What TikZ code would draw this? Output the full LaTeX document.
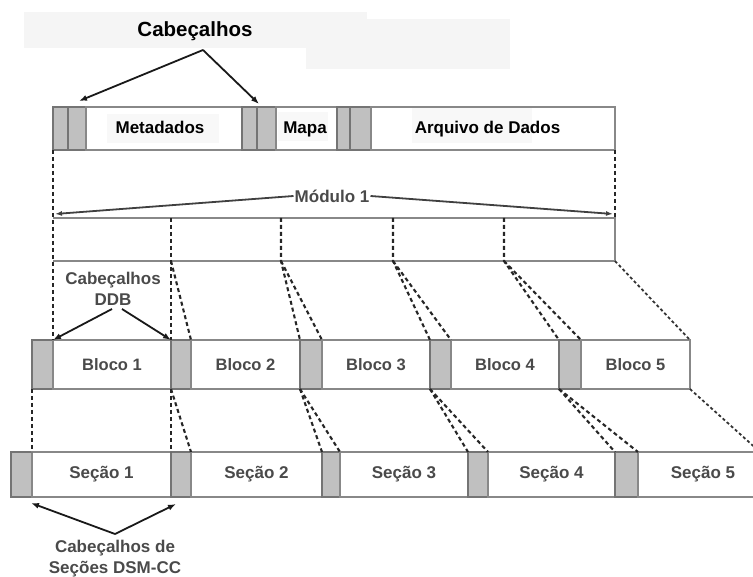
\documentclass[tikz,border=0pt]{standalone}
\usepackage{fontspec}
\setmainfont{Liberation Sans}
\usetikzlibrary{arrows.meta,calc}
\definecolor{hdrfill}{HTML}{C0C0C0}
\definecolor{edgegray}{HTML}{888888}
\definecolor{txtgray}{HTML}{4A4A4A}
\definecolor{bgpale}{HTML}{F5F5F5}
\begin{document}
\begin{tikzpicture}[x=1pt,y=-1pt,
  cellbox/.style={draw=edgegray, line width=2.2pt, fill=white, inner sep=0pt, outer sep=0pt},
  hdrbox/.style={cellbox, fill=hdrfill, draw=edgegray!85!black},
  toprow/.style={minimum height=43pt},
  blkrow/.style={minimum height=49pt},
  secrow/.style={minimum height=45pt},
  bigtxt/.style={font=\fontsize{20.5}{24}\selectfont\bfseries, text=black},
  toptxt/.style={font=\fontsize{17}{20}\selectfont\bfseries, text=black, anchor=base},
  graytxt/.style={font=\fontsize{16.5}{20}\selectfont\bfseries, text=txtgray, align=center},
  lbltxt/.style={font=\fontsize{17}{21}\selectfont\bfseries, text=txtgray, align=center},
  dsh/.style={draw=black!85, line width=2.1pt, dash pattern=on 4pt off 3pt},
  dsh2/.style={draw=black!80, line width=1.8pt, dash pattern=on 3pt off 2.5pt},
  arr/.style={draw=black!90, line width=1.8pt, -{Latex[length=8pt,width=6pt]}},
  arrg/.style={draw=black!75, line width=1.8pt, -{Latex[length=7pt,width=5pt]}}
]
\useasboundingbox (0,0) rectangle (753,577);
% pale background patches
\fill[bgpale] (24,12) rectangle (367,48);
\fill[bgpale] (306,19) rectangle (510,69);

% ---------- top bar ----------
\node[hdrbox,toprow,minimum width=15pt] (th1a) at (60.5,128.5) {};
\node[hdrbox,toprow,minimum width=18pt] (th1b) at (77,128.5) {};
\node[cellbox,toprow,minimum width=156pt] (meta) at (164,128.5) {};
\node[hdrbox,toprow,minimum width=15pt] (th2a) at (249.5,128.5) {};
\node[hdrbox,toprow,minimum width=19pt] (th2b) at (266.5,128.5) {};
\node[cellbox,toprow,minimum width=61pt] (mapa) at (306.5,128.5) {};
\node[hdrbox,toprow,minimum width=13pt] (th3a) at (343.5,128.5) {};
\node[hdrbox,toprow,minimum width=21pt] (th3b) at (360.5,128.5) {};
\node[cellbox,toprow,minimum width=244pt] (arq) at (493,128.5) {};
\fill[bgpale!70!white] (107,114) rectangle (219,143);
\fill[bgpale!70!white] (278,112) rectangle (328,141);
\fill[bgpale!70!white] (412,108) rectangle (532,143);
\node[toptxt] (tmeta) at (160,134) {Metadados};
\node[toptxt] (tmapa) at (305,134) {Mapa};
\node[toptxt] (tarq) at (487.5,134) {Arquivo de Dados};

% Cabeçalhos
\node[bigtxt] (cab) at (195,31) {Cabeçalhos};
\coordinate (capex) at (203,50);
\coordinate (ctipl) at (79,101);
\coordinate (ctipr) at (259,104);
\draw[arr] (capex) -- (ctipl);
\draw[arr] (capex) -- (ctipr);

% ---------- module ----------
\node[inner sep=0pt, outer sep=0pt, minimum width=562pt, minimum height=43pt] (mod) at (334,239.5) {};
\draw[edgegray, line width=2.2pt] (mod.north west) -- (mod.north east) -- (mod.south east) -- (mod.south west);
\node[font=\fontsize{17}{20}\selectfont\bfseries, text=txtgray, inner sep=1pt] (mlab) at (332,196) {Módulo 1};
\coordinate (mtipl) at (55,214);
\coordinate (mtipr) at (613,214);
\draw[arrg] (mlab.west) -- (mtipl);
\draw[arrg] (mlab.east) -- (mtipr);

% ---------- blocks ----------
\node[hdrbox,blkrow,minimum width=21pt] (bh1) at (42.5,364.5) {};
\node[cellbox,blkrow,minimum width=118pt,graytxt] (b1) at (112,364.5) {Bloco 1};
\node[hdrbox,blkrow,minimum width=20pt] (bh2) at (181,364.5) {};
\node[cellbox,blkrow,minimum width=109pt,graytxt] (b2) at (245.5,364.5) {Bloco 2};
\node[hdrbox,blkrow,minimum width=22pt] (bh3) at (311,364.5) {};
\node[cellbox,blkrow,minimum width=108pt,graytxt] (b3) at (376,364.5) {Bloco 3};
\node[hdrbox,blkrow,minimum width=21pt] (bh4) at (440.5,364.5) {};
\node[cellbox,blkrow,minimum width=108pt,graytxt] (b4) at (505,364.5) {Bloco 4};
\node[hdrbox,blkrow,minimum width=22pt] (bh5) at (570,364.5) {};
\node[cellbox,blkrow,minimum width=109pt,graytxt] (b5) at (635.5,364.5) {Bloco 5};

% ---------- sections ----------
\node[hdrbox,secrow,minimum width=21pt] (sh1) at (21.5,474.5) {};
\node[cellbox,secrow,minimum width=139pt,lbltxt] (s1) at (101.5,474.5) {Seção 1};
\node[hdrbox,secrow,minimum width=20pt] (sh2) at (181,474.5) {};
\node[cellbox,secrow,minimum width=131pt,lbltxt] (s2) at (256.5,474.5) {Seção 2};
\node[hdrbox,secrow,minimum width=18pt] (sh3) at (331,474.5) {};
\node[cellbox,secrow,minimum width=128pt,lbltxt] (s3) at (404,474.5) {Seção 3};
\node[hdrbox,secrow,minimum width=20pt] (sh4) at (478,474.5) {};
\node[cellbox,secrow,minimum width=127pt,lbltxt] (s4) at (551.5,474.5) {Seção 4};
\node[hdrbox,secrow,minimum width=23pt] (sh5) at (626.5,474.5) {};
\node[cellbox,secrow,minimum width=130pt,lbltxt] (s5) at (703,474.5) {Seção 5};

% ---------- dashed mapping lines ----------
\draw[dsh] (th1a.south west) -- (b1.north west);
\draw[dsh] (arq.south east) -- (mod.north east);
\coordinate (m1t) at (171,218); \coordinate (m1b) at (171,261);
\coordinate (m2t) at (281,218); \coordinate (m2b) at (281,261);
\coordinate (m3t) at (393,218); \coordinate (m3b) at (393,261);
\coordinate (m4t) at (504,218); \coordinate (m4b) at (504,261);
\draw[dsh] (m1t) -- (m1b) -- (bh2.north west);
\draw[dsh] (m1b) -- (bh2.north east);
\draw[dsh] (m2t) -- (m2b) -- (bh3.north west);
\draw[dsh] (m2b) -- (bh3.north east);
\draw[dsh] (m3t) -- (m3b) -- (bh4.north west);
\draw[dsh] (m3b) -- (bh4.north east);
\draw[dsh] (m4t) -- (m4b) -- (bh5.north west);
\draw[dsh] (m4b) -- (bh5.north east);
\draw[dsh2] (mod.south east) -- (b5.north east);

\draw[dsh] (bh1.south west) -- (s1.north west);
\draw[dsh] (bh2.south west) -- (sh2.north west);
\draw[dsh] (bh2.south west) -- (sh2.north east);
\draw[dsh] (bh3.south west) -- (sh3.north west);
\draw[dsh] (bh3.south west) -- (sh3.north east);
\draw[dsh] (bh4.south west) -- (sh4.north west);
\draw[dsh] (bh4.south west) -- (sh4.north east);
\draw[dsh] (bh5.south west) -- (sh5.north west);
\draw[dsh] (bh5.south west) -- (sh5.north east);
\coordinate (offr) at (760,452);
\draw[dsh2] (b5.south east) -- (offr);

% ---------- DDB headers label ----------
\node[lbltxt] (ddb) at (113,289) {Cabeçalhos\\DDB};
\coordinate (dapl) at (112,309);
\coordinate (dapr) at (122,309);
\draw[arr] (dapl) -- (b1.north west);
\draw[arr] (dapr) -- (bh2.north west);

% ---------- DSM-CC headers label ----------
\node[lbltxt] (dsm) at (115,559) {Cabeçalhos de\\Seções DSM-CC};
\coordinate (sapex) at (115,534);
\coordinate (stipl) at (31,503);
\coordinate (stipr) at (176,504);
\draw[arr] (sapex) -- (stipl);
\draw[arr] (sapex) -- (stipr);
\end{tikzpicture}
\end{document}
